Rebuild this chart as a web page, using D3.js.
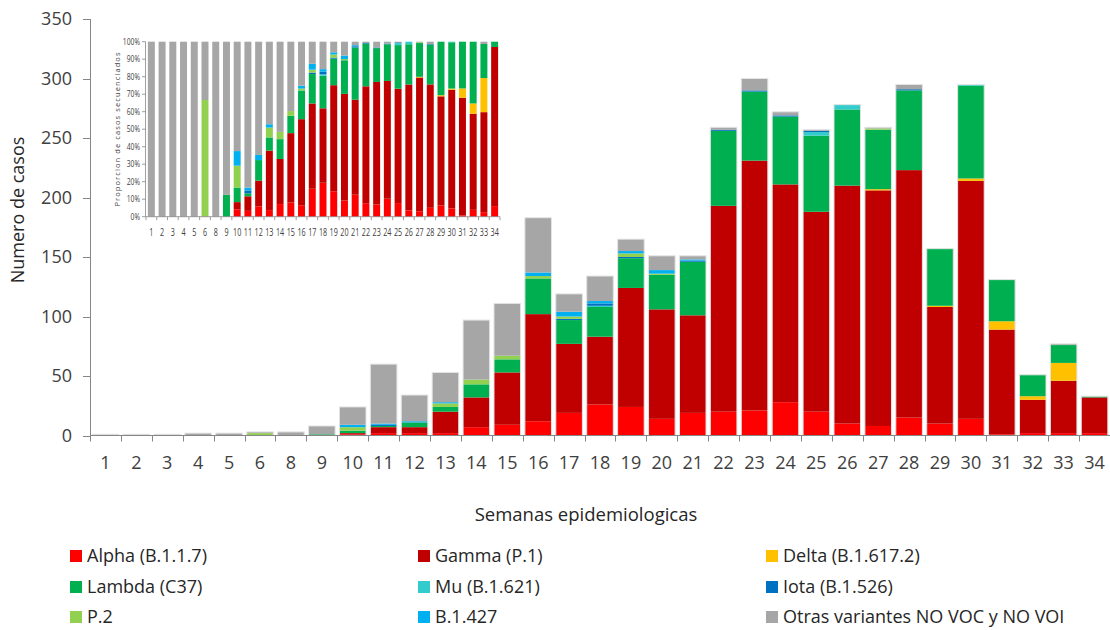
<!DOCTYPE html>
<html>
<head>
<meta charset="utf-8">
<script src="https://cdn.jsdelivr.net/npm/d3@7"></script>
<style>
  body { margin: 0; background: #fff; }
  svg { display: block; font-family: "Open Sans", sans-serif; }
</style>
</head>
<body>
<svg id="chart" width="1110" height="630"></svg>
<script>
// Epidemiological weeks (week 7 has no data)
const weeks = ["1","2","3","4","5","6","8","9","10","11","12","13","14","15","16","17",
               "18","19","20","21","22","23","24","25","26","27","28","29","30","31","32","33","34"];

// Cases per variant and week
const alpha  = [0,0,0,0,0,0,0,0,1,2,2,2,7,9,12,19,26,24,14,19,20,21,28,20,10,8,15,10,14,1,2,2,2];
const gamma  = [0,0,0,0,0,0,0,0,1,5,5,18,25,44,90,58,57,100,92,82,173,210,183,168,200,198,208,98,200,88,28,44,30];
const delta  = [0,0,0,0,0,0,0,0,0,0,0,0,0,0,0,0,0,0,0,0,0,0,0,0,0,1,0,1,2,7,3,15,0];
const lambda = [0,0,0,0,0,0,0,1,2,1,4,4,11,11,30,20,25,25,29,45,63,58,57,64,64,50,67,48,78,35,18,15,1];
const mu     = [0,0,0,0,0,0,0,0,0,0,0,0,0,0,0,0,1,0,0,0,0,0,0,3,4,0,0,0,1,0,0,0,0];
const iota   = [0,0,0,0,0,0,0,0,0,1,0,0,0,0,0,1,2,1,0,1,1,1,1,1,0,0,1,0,0,0,0,0,0];
const p2     = [0,0,0,0,0,2,0,0,3,0,0,3,4,3,2,2,0,3,1,0,0,0,0,0,0,1,0,0,0,0,0,0,0];
const b1427  = [0,0,0,0,0,0,0,0,2,1,1,1,0,0,3,4,2,2,3,1,0,0,0,0,0,0,0,0,0,0,0,0,0];
const otras  = [1,1,1,2,2,1,3,7,15,50,22,25,50,44,46,15,21,10,12,3,2,10,3,1,0,1,4,0,0,0,0,1,0];

// Tick values
const yTicks = [0, 50, 100, 150, 200, 250, 300, 350];
const pctTicks = [0, 0.1, 0.2, 0.3, 0.4, 0.5, 0.6, 0.7, 0.8, 0.9, 1];

const variants = [
  { key: "alpha",  label: "Alpha (B.1.1.7)",  color: "#FF0000", values: alpha },
  { key: "gamma",  label: "Gamma (P.1)",      color: "#C00000", values: gamma },
  { key: "delta",  label: "Delta (B.1.617.2)", color: "#FFC000", values: delta },
  { key: "lambda", label: "Lambda (C37)",     color: "#00B050", values: lambda },
  { key: "mu",     label: "Mu (B.1.621)",     color: "#33CCCC", values: mu },
  { key: "iota",   label: "Iota (B.1.526)",   color: "#0070C0", values: iota },
  { key: "p2",     label: "P.2",              color: "#92D050", values: p2 },
  { key: "b1427",  label: "B.1.427",          color: "#00B0F0", values: b1427 },
  { key: "otras",  label: "Otras variantes NO VOC y NO VOI", color: "#A6A6A6", values: otras }
];
const keys = variants.map(v => v.key);
const color = d3.scaleOrdinal(keys, variants.map(v => v.color));

const rows = weeks.map((w, i) => {
  const r = { week: w };
  variants.forEach(v => { r[v.key] = v.values[i]; });
  return r;
});

const svg = d3.select("#chart");
const axisColor = "#868686";
const textColor = "#404040";

// ---------- Main chart: absolute counts ----------
const x = d3.scaleBand().domain(weeks).range([90, 1110]).paddingInner(0.14).paddingOuter(0.07);
const y = d3.scaleLinear().domain([0, 350]).range([435.5, 19]);

const series = d3.stack().keys(keys)(rows);

const main = svg.append("g");
main.selectAll("g.layer")
  .data(series)
  .join("g")
  .attr("class", "layer")
  .attr("fill", d => color(d.key))
  .selectAll("rect")
  .data(d => d.map(p => ({ week: p.data.week, y0: p[0], y1: p[1] })).filter(p => p.y1 > p.y0))
  .join("rect")
  .attr("x", d => x(d.week))
  .attr("width", x.bandwidth())
  .attr("y", d => y(d.y1))
  .attr("height", d => y(d.y0) - y(d.y1));

// light outline around each stacked bar
main.append("g").selectAll("rect")
  .data(rows)
  .join("rect")
  .attr("x", d => x(d.week))
  .attr("width", x.bandwidth())
  .attr("y", d => y(d3.sum(keys, k => d[k])))
  .attr("height", d => y(0) - y(d3.sum(keys, k => d[k])))
  .attr("fill", "none")
  .attr("stroke", "#e4e4e4")
  .attr("stroke-width", 1);

// y axis
const yAxis = svg.append("g");
yAxis.append("line").attr("x1", 90.5).attr("x2", 90.5).attr("y1", y(350)).attr("y2", 441)
  .attr("stroke", axisColor);
yAxis.selectAll("line.tick").data(yTicks).join("line").attr("class", "tick")
  .attr("x1", 83).attr("x2", 90.5).attr("y1", d => Math.round(y(d)) + 0.5).attr("y2", d => Math.round(y(d)) + 0.5)
  .attr("stroke", axisColor);
yAxis.selectAll("text").data(yTicks).join("text")
  .attr("x", 72).attr("y", d => y(d)).attr("dy", "0.36em")
  .attr("text-anchor", "end").attr("font-size", 18).attr("fill", textColor)
  .text(d => d);

// x axis
const step = x.step();
const bounds = weeks.map(w => x(w) - (step - x.bandwidth()) / 2).concat([x.range()[1]]);
const xAxis = svg.append("g");
xAxis.append("line").attr("x1", 90).attr("x2", 1110).attr("y1", 435.5).attr("y2", 435.5)
  .attr("stroke", axisColor);
xAxis.selectAll("line.tick").data(bounds).join("line").attr("class", "tick")
  .attr("x1", d => Math.round(d) + 0.5).attr("x2", d => Math.round(d) + 0.5)
  .attr("y1", 435.5).attr("y2", 441.5).attr("stroke", axisColor);
xAxis.selectAll("text").data(weeks).join("text")
  .attr("x", d => x(d) + x.bandwidth() / 2).attr("y", 469)
  .attr("text-anchor", "middle").attr("font-size", 18).attr("fill", textColor)
  .text(d => d);

// axis titles
svg.append("text")
  .attr("transform", "translate(24,210) rotate(-90)")
  .attr("text-anchor", "middle").attr("font-size", 18).attr("fill", "#262626")
  .text("Numero de casos");
svg.append("text")
  .attr("x", 586).attr("y", 521)
  .attr("text-anchor", "middle").attr("font-size", 18.5).attr("fill", "#262626")
  .text("Semanas epidemiologicas");

// legend (3 columns, filled row by row)
const legendCols = [70, 418, 766];
const legendRows = [556, 587, 617];
const legend = svg.append("g").selectAll("g")
  .data(variants)
  .join("g")
  .attr("transform", (d, i) => `translate(${legendCols[i % 3]},${legendRows[Math.floor(i / 3)]})`);
legend.append("rect")
  .attr("x", 0).attr("y", -6).attr("width", 12).attr("height", 12)
  .attr("fill", d => d.color);
legend.append("text")
  .attr("x", 17).attr("y", 0).attr("dy", "0.36em")
  .attr("font-size", 18).attr("fill", "#262626")
  .text(d => d.label);

// ---------- Inset: proportion of sequenced cases ----------
const inset = svg.append("g");
const ix = d3.scaleBand().domain(weeks).range([146, 500]).paddingInner(0.35).paddingOuter(0.175);
const iy = d3.scaleLinear().domain([0, 1]).range([216.7, 41.7]);
const pctSeries = d3.stack().keys(keys).offset(d3.stackOffsetExpand)(rows);

inset.selectAll("g.layer")
  .data(pctSeries)
  .join("g")
  .attr("class", "layer")
  .attr("fill", d => color(d.key))
  .selectAll("rect")
  .data(d => d.map(p => ({ week: p.data.week, y0: p[0], y1: p[1] })).filter(p => p.y1 > p.y0))
  .join("rect")
  .attr("x", d => ix(d.week))
  .attr("width", ix.bandwidth())
  .attr("y", d => iy(d.y1))
  .attr("height", d => iy(d.y0) - iy(d.y1));

inset.append("line").attr("x1", 145.5).attr("x2", 145.5).attr("y1", iy(1)).attr("y2", iy(0))
  .attr("stroke", axisColor).attr("stroke-width", 0.8);
inset.selectAll("line.ytick").data(pctTicks).join("line").attr("class", "ytick")
  .attr("x1", 142).attr("x2", 145.5).attr("y1", d => iy(d)).attr("y2", d => iy(d))
  .attr("stroke", axisColor).attr("stroke-width", 0.8);
// narrow tick labels: horizontally compressed text
inset.selectAll("text.ylab").data(pctTicks).join("text").attr("class", "ylab")
  .attr("transform", d => `translate(140,${iy(d)}) scale(0.75,1)`)
  .attr("dy", "0.35em")
  .attr("text-anchor", "end").attr("font-size", 9).attr("fill", textColor)
  .text(d => d3.format(".0%")(d));

const istep = ix.step();
const ibounds = weeks.map(w => ix(w) - (istep - ix.bandwidth()) / 2).concat([ix.range()[1]]);
inset.append("line").attr("x1", 145.5).attr("x2", 500).attr("y1", iy(0)).attr("y2", iy(0))
  .attr("stroke", axisColor).attr("stroke-width", 0.8);
inset.selectAll("line.xtick").data(ibounds).join("line").attr("class", "xtick")
  .attr("x1", d => d).attr("x2", d => d).attr("y1", iy(0)).attr("y2", iy(0) + 3.5)
  .attr("stroke", axisColor).attr("stroke-width", 0.8);
inset.selectAll("text.xlab").data(weeks).join("text").attr("class", "xlab")
  .attr("transform", d => `translate(${ix(d) + ix.bandwidth() / 2},235.5) scale(0.72,1)`)
  .attr("text-anchor", "middle").attr("font-size", 10).attr("fill", textColor)
  .text(d => d);

inset.append("text")
  .attr("transform", "translate(120,129) rotate(-90)")
  .attr("text-anchor", "middle").attr("font-size", 7.5).attr("letter-spacing", 1.1)
  .attr("fill", textColor)
  .text("Proporcion de casos secuenciados");
</script>
</body>
</html>
